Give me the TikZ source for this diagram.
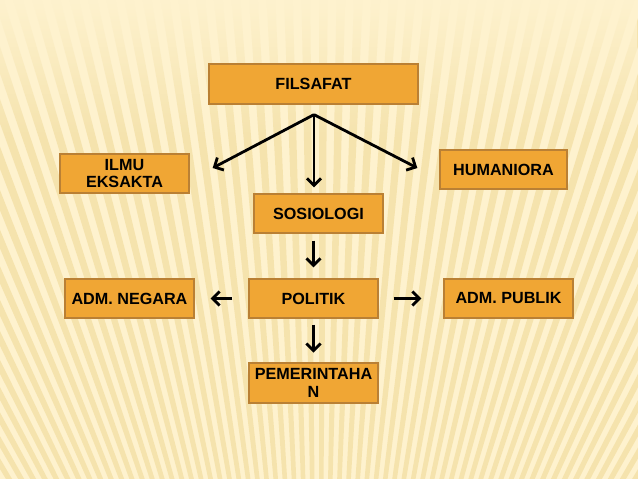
\documentclass[tikz,border=0pt]{standalone}
\usepackage{fontspec}
\setmainfont{Liberation Sans}
\usepackage{tikz}
\usetikzlibrary{arrows.meta, calc, fadings, positioning}
\definecolor{latar}{RGB}{254,242,206}
\definecolor{garis}{RGB}{242,221,160}
\definecolor{boxfill}{RGB}{240,166,52}
\definecolor{boxline}{RGB}{186,128,52}
\tikzstyle{konsep}=[rectangle, draw=boxline, fill=boxfill, line width=0.9pt, minimum width=3.225cm, minimum height=0.975cm, inner sep=0pt, align=center, font=\bfseries\fontsize{11.5}{12.5}\selectfont]
\tikzstyle{panah}=[-{Straight Barb[length=5pt, width=10pt]}, line width=2pt]

\begin{document}
\begin{tikzpicture}[x=0.025cm, y=-0.025cm]
      \useasboundingbox (0,0) rectangle (638,479);
      % latar belakang bergaris
      \begin{scope}
         \clip (0,0) rectangle (638,479);
         \fill[latar] (0,0) rectangle (638,479);
         \foreach \a in {-40,-39,...,40}
            \fill[garis, opacity=0.7, shift={(319,1000)}] (0,0) -- (270+\a:1200) -- (270+\a+0.5:1200) -- cycle;
         \fill[latar, path fading=south] (0,0) rectangle (638,140);
      \end{scope}
      % kotak
      \node[konsep, minimum width=5.225cm, minimum height=1cm] (filsafat) at (313.5,84) {FILSAFAT};
      \node[konsep] (ilmu) at (124.5,173.5) {ILMU\\EKSAKTA};
      \node[konsep, minimum width=3.175cm] (humaniora) at (503.5,169.5) {HUMANIORA};
      \node[konsep] (sosiologi) at (318.5,213.5) {SOSIOLOGI};
      \node[konsep] (politik) at (313.5,298.5) {POLITIK};
      \node[konsep] (negara) at (129.5,298.5) {ADM. NEGARA};
      \node[konsep] (publik) at (508.5,298.5) {ADM. PUBLIK};
      \node[konsep, minimum height=1cm] (pemerintahan) at (313.5,383) {PEMERINTAHA\\N};
      % panah
      \coordinate (cabang) at ($(filsafat.south)+(0.5,10)$);
      \coordinate (ujung ilmu) at ($(ilmu.east)+(23,-5.5)$);
      \coordinate (ujung humaniora) at ($(humaniora.west)+(-22,-1.5)$);
      \draw[panah] (cabang) -- (ujung ilmu);
      \draw[panah] (cabang) -- (ujung humaniora);
      \draw[panah, shorten >=4.3pt] (cabang) -- (cabang |- sosiologi.north);
      \draw[panah, shorten <=5pt, shorten >=7.8pt] (sosiologi.south -| politik.north) -- (politik.north);
      \draw[panah, shorten <=4.3pt, shorten >=7pt] (politik.south) -- (pemerintahan.north);
      \draw[panah, shorten <=11.4pt, shorten >=11.4pt] (politik.west) -- (negara.east);
      \draw[panah, shorten <=10.7pt, shorten >=15.6pt] (politik.east) -- (publik.west);
\end{tikzpicture}
\end{document}
